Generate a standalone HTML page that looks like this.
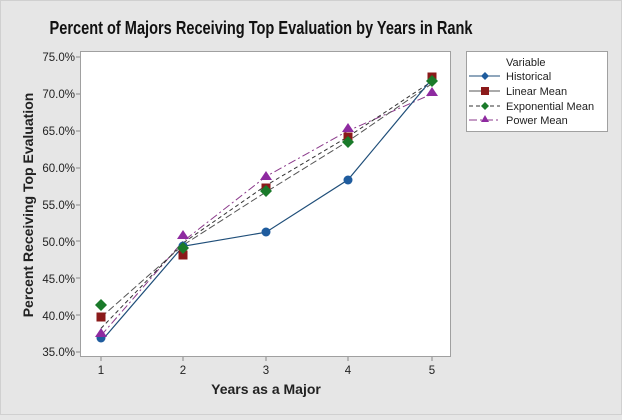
<!DOCTYPE html>
<html><head><meta charset="utf-8"><style>html,body{margin:0;padding:0;background:#e6e6e6}</style></head><body>
<svg width="622" height="415" xmlns="http://www.w3.org/2000/svg" font-family="Liberation Sans, sans-serif">
<rect x="0" y="0" width="622" height="415" fill="#e6e6e6"/>
<rect x="0.5" y="0.5" width="621" height="414" fill="none" stroke="#d0d0d0"/>
<text x="261" y="34" font-size="18" font-weight="bold" text-anchor="middle" fill="#111" textLength="423" lengthAdjust="spacingAndGlyphs">Percent of Majors Receiving Top Evaluation by Years in Rank</text>
<rect x="80.5" y="51.5" width="370" height="305" fill="#fff" stroke="#a0a0a0"/>
<g font-size="11.5" fill="#222" text-anchor="end">
<text x="75" y="61">75.0%</text><text x="75" y="98">70.0%</text><text x="75" y="135">65.0%</text><text x="75" y="172">60.0%</text><text x="75" y="209">55.0%</text><text x="75" y="246">50.0%</text><text x="75" y="283">45.0%</text><text x="75" y="320">40.0%</text><text x="75" y="356">35.0%</text>
</g>
<g stroke="#888" stroke-width="1">
<line x1="76" y1="57" x2="80" y2="57"/><line x1="76" y1="94" x2="80" y2="94"/><line x1="76" y1="131" x2="80" y2="131"/><line x1="76" y1="168" x2="80" y2="168"/><line x1="76" y1="205" x2="80" y2="205"/><line x1="76" y1="241" x2="80" y2="241"/><line x1="76" y1="278" x2="80" y2="278"/><line x1="76" y1="315" x2="80" y2="315"/><line x1="76" y1="352" x2="80" y2="352"/>
<line x1="101" y1="357" x2="101" y2="361"/><line x1="183" y1="357" x2="183" y2="361"/><line x1="266" y1="357" x2="266" y2="361"/><line x1="348" y1="357" x2="348" y2="361"/><line x1="432" y1="357" x2="432" y2="361"/>
</g>
<g font-size="11.5" fill="#222" text-anchor="middle">
<text x="101" y="374">1</text><text x="183" y="374">2</text><text x="266" y="374">3</text><text x="348" y="374">4</text><text x="432" y="374">5</text>
</g>
<text x="266" y="394" font-size="14" font-weight="bold" text-anchor="middle" fill="#222">Years as a Major</text>
<text transform="translate(33,205) rotate(-90)" font-size="14" font-weight="bold" text-anchor="middle" fill="#222">Percent Receiving Top Evaluation</text>
<polyline fill="none" stroke="#8b3a8b" stroke-width="1" stroke-dasharray="8,3,2,3" points="101,335.6 183,241.4 266,176.5 348,130.8 432,94"/>
<polyline fill="none" stroke="#555" stroke-width="1" stroke-dasharray="7,3" points="101,317.3 183,245.2 266,192.0 348,141.2 432,83.6"/>
<polyline fill="none" stroke="#333" stroke-width="1" stroke-dasharray="4,3" points="101,328.4 183,243.0 266,185.5 348,136.7 432,81.3"/>
<polyline fill="none" stroke="#1f4e79" stroke-width="1.2" points="101,341.5 183,246.3 266,232.2 348,179.8 432,79"/>
<g fill="#1f5c9e"><circle cx="101" cy="338" r="4.5"/><circle cx="183" cy="246" r="4.5"/><circle cx="266" cy="232" r="4.5"/><circle cx="348" cy="180" r="4.5"/><circle cx="432" cy="79" r="4.5"/></g>
<g fill="#8b1a1a"><rect x="96.5" y="312.5" width="9" height="9"/><rect x="178.5" y="250.5" width="9" height="9"/><rect x="261.5" y="183.5" width="9" height="9"/><rect x="343.5" y="132.5" width="9" height="9"/><rect x="427.5" y="72.5" width="9" height="9"/></g>
<g fill="#1a7a2a"><path d="M101,299 l6,6 l-6,6 l-6,-6z"/><path d="M183,242 l6,6 l-6,6 l-6,-6z"/><path d="M266,185 l6,6 l-6,6 l-6,-6z"/><path d="M348,136 l6,6 l-6,6 l-6,-6z"/><path d="M432,75 l6,6 l-6,6 l-6,-6z"/></g>
<g fill="#8e2aa0"><path d="M101,328 l6,9 h-12z"/><path d="M183,230 l6,9 h-12z"/><path d="M266,171 l6,9 h-12z"/><path d="M348,123 l6,9 h-12z"/><path d="M432,87 l6,9 h-12z"/></g>
<rect x="466.5" y="51.5" width="141" height="80" fill="#fff" stroke="#a0a0a0"/>
<g font-size="11" fill="#222">
<text x="506" y="66">Variable</text>
<text x="506" y="80">Historical</text>
<text x="506" y="95">Linear Mean</text>
<text x="506" y="110">Exponential Mean</text>
<text x="506" y="124">Power Mean</text>
</g>
<line x1="469" y1="76" x2="500" y2="76" stroke="#1f4e79"/><path d="M485,72 l4,4 l-4,4 l-4,-4z" fill="#1f5c9e"/>
<line x1="469" y1="91" x2="500" y2="91" stroke="#555"/><rect x="481" y="87" width="8" height="8" fill="#8b1a1a"/>
<line x1="469" y1="106" x2="500" y2="106" stroke="#333" stroke-dasharray="4,3"/><path d="M485,102 l4,4 l-4,4 l-4,-4z" fill="#1a7a2a"/>
<line x1="469" y1="120" x2="500" y2="120" stroke="#8b3a8b" stroke-dasharray="8,3,2,3"/><path d="M485,115 l4,7 h-8z" fill="#8e2aa0"/>
</svg>
</body></html>
